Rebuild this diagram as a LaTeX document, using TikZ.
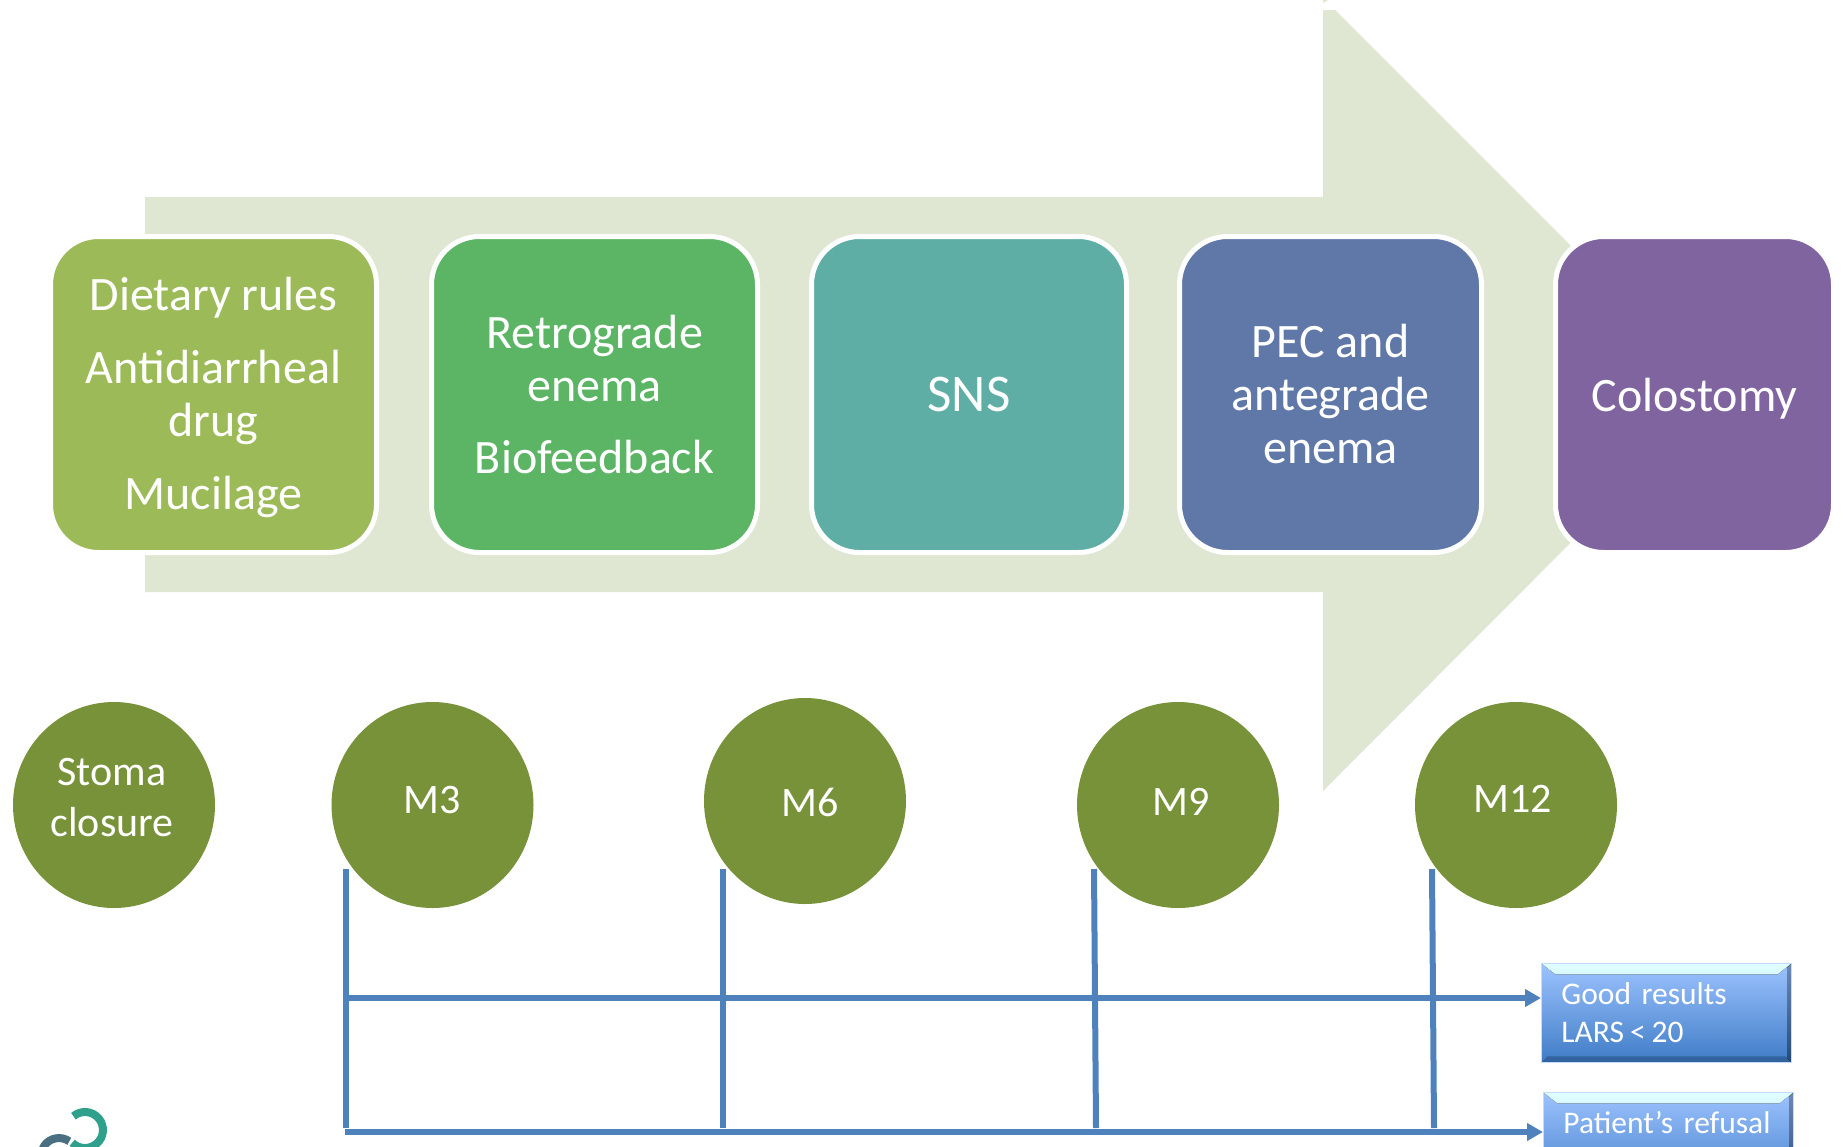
\documentclass[tikz,border=0pt]{standalone}
\usepackage{fontspec}
\setmainfont{Carlito}
\usetikzlibrary{arrows.meta,shapes,positioning}
\definecolor{lgarrow}{RGB}{223,231,211}
\definecolor{lgdiet}{RGB}{156,187,88}
\definecolor{lgenema}{RGB}{92,181,101}
\definecolor{lgsns}{RGB}{95,174,166}
\definecolor{lgpec}{RGB}{96,120,168}
\definecolor{lgcolo}{RGB}{128,100,160}
\definecolor{lgmonth}{RGB}{120,146,58}
\definecolor{lgline}{RGB}{79,129,189}
\definecolor{lgtop}{RGB}{157,195,255}
\definecolor{lgbottom}{RGB}{63,124,198}
\definecolor{lglogo}{RGB}{47,160,140}
\definecolor{lglogodark}{RGB}{74,111,128}
\tikzstyle{stagebox} = [rectangle,rounded corners=48pt,draw=white,line width=5pt,inner sep=0pt,text=white,align=center,font=\fontsize{48}{53}\selectfont,minimum height=316pt]
\tikzstyle{monthcircle} = [ellipse,fill=lgmonth,inner sep=0pt,minimum width=202pt,minimum height=206pt]
\tikzstyle{monthtext} = [text=white,align=center,font=\fontsize{42}{51}\selectfont]
\tikzstyle{timeline} = [line width=6pt,color=lgline]
\tikzstyle{resultarrow} = [line width=6pt,color=lgline,-{Triangle[length=16pt,width=17pt]}]
\tikzstyle{resultbox} = [rectangle,anchor=north west,inner xsep=20pt,inner ysep=0pt,text width=210pt,minimum height=99pt,align=left,text=white,top color=lgtop,bottom color=lgbottom,draw=lgtop!60!white,line width=0.8pt,font=\fontsize{31.5}{38}\selectfont,
  path picture={
    \fill[top color=cyan!12!white,bottom color=lgtop] (path picture bounding box.north west) -- (path picture bounding box.north east) -- ++(-14pt,-11pt) -- ([shift={(14pt,-11pt)}]path picture bounding box.north west) -- cycle;
    \fill[lgbottom!80!black] (path picture bounding box.south west) -- (path picture bounding box.south east) -- ++(-6pt,6pt) -- ([shift={(6pt,6pt)}]path picture bounding box.south west) -- cycle;
    \fill[top color=lgtop!70!black,bottom color=lgbottom!60!black] (path picture bounding box.north east) -- (path picture bounding box.south east) -- ++(-4pt,4pt) -- ([shift={(-4pt,-4pt)}]path picture bounding box.north east) -- cycle;
  }]
\begin{document}
\begin{tikzpicture}[x=1pt,y=-1pt]
\path[use as bounding box,clip] (0,0) rectangle (1843,1146);
% Big arrow
\fill[lgarrow] (145,197) -- (1323,197) -- (1323,10) -- (1335,10) -- (1719,394) -- (1323,791) -- (1323,592) -- (145,592) -- cycle;
\fill[lgarrow] (1323,0) -- (1328,0) -- (1323,3) -- cycle;
% Stages
\node[stagebox,fill=lgdiet,minimum width=326pt] (diet) at (213.5,394.5) {\rule{0pt}{40pt}Dietary rules\\[20pt]Antidiarrheal\\drug\\[20pt]Mucilage};
\node[stagebox,fill=lgenema,minimum width=326pt] (enema) at (594.5,394.5) {Retrograde\\enema\\[19pt]Biofeedback};
\node[stagebox,fill=lgsns,minimum width=315pt,font=\fontsize{53}{53}\selectfont] (sns) at (969,394.5) {SNS};
\node[stagebox,fill=lgpec,minimum width=302pt] (pec) at (1330.5,394.5) {PEC and\\antegrade\\enema};
\node[stagebox,fill=lgcolo,minimum width=278pt,text height=42pt] (colostomy) at (1694.5,394.5) {Colostomy};
% Months
\node[monthcircle,label={[monthtext,xshift=-2pt,yshift=7pt]center:Stoma\\closure}] (closure) at (114,805) {};
\node[monthcircle,label={[monthtext,yshift=5pt]center:M3}] (m3) at (432.5,805) {};
\node[monthcircle,label={[monthtext,xshift=5pt,yshift=-1pt]center:M6}] (m6) at (805,801) {};
\node[monthcircle,label={[monthtext,xshift=3.5pt,yshift=3.5pt]center:M9}] (m9) at (1178,805) {};
\node[monthcircle,label={[monthtext,xshift=-3.5pt,yshift=6pt]center:M12}] (m12) at (1516,805) {};
% Results
\node[resultbox] (good) at (1541,963) {Good results\\LARS\hspace{6pt}<\hspace{6pt}20};
\node[resultbox,text height=41pt,text depth=58pt] (refusal) at (1543,1092) {Patient’s refusal};
% Timeline
\coordinate (m3top) at (346,869);
\coordinate (m3bottom) at (346,1128);
\coordinate (m6top) at (723,869);
\coordinate (m6bottom) at (723,1128);
\coordinate (m9top) at (1094,869);
\coordinate (m9bottom) at (1096,1128);
\coordinate (m12top) at (1432,869);
\coordinate (m12bottom) at (1434,1128);
\coordinate (goodstart) at (349,998);
\coordinate (refusalstart) at (345,1132);
\draw[timeline] (m3top) -- (m3bottom);
\draw[timeline] (m6top) -- (m6bottom);
\draw[timeline] (m9top) -- (m9bottom);
\draw[timeline] (m12top) -- (m12bottom);
\draw[resultarrow] (goodstart) -- (goodstart -| good.west);
\draw[resultarrow] (refusalstart) -- (refusalstart -| refusal.west);
% Logo
\draw[line width=8pt,color=lglogo] (73.4,1116.2) arc (130:-135:18pt);
\draw[line width=8pt,color=lglogodark] (69.3,1141.3) arc (55:180:18pt);
\end{tikzpicture}
\end{document}
